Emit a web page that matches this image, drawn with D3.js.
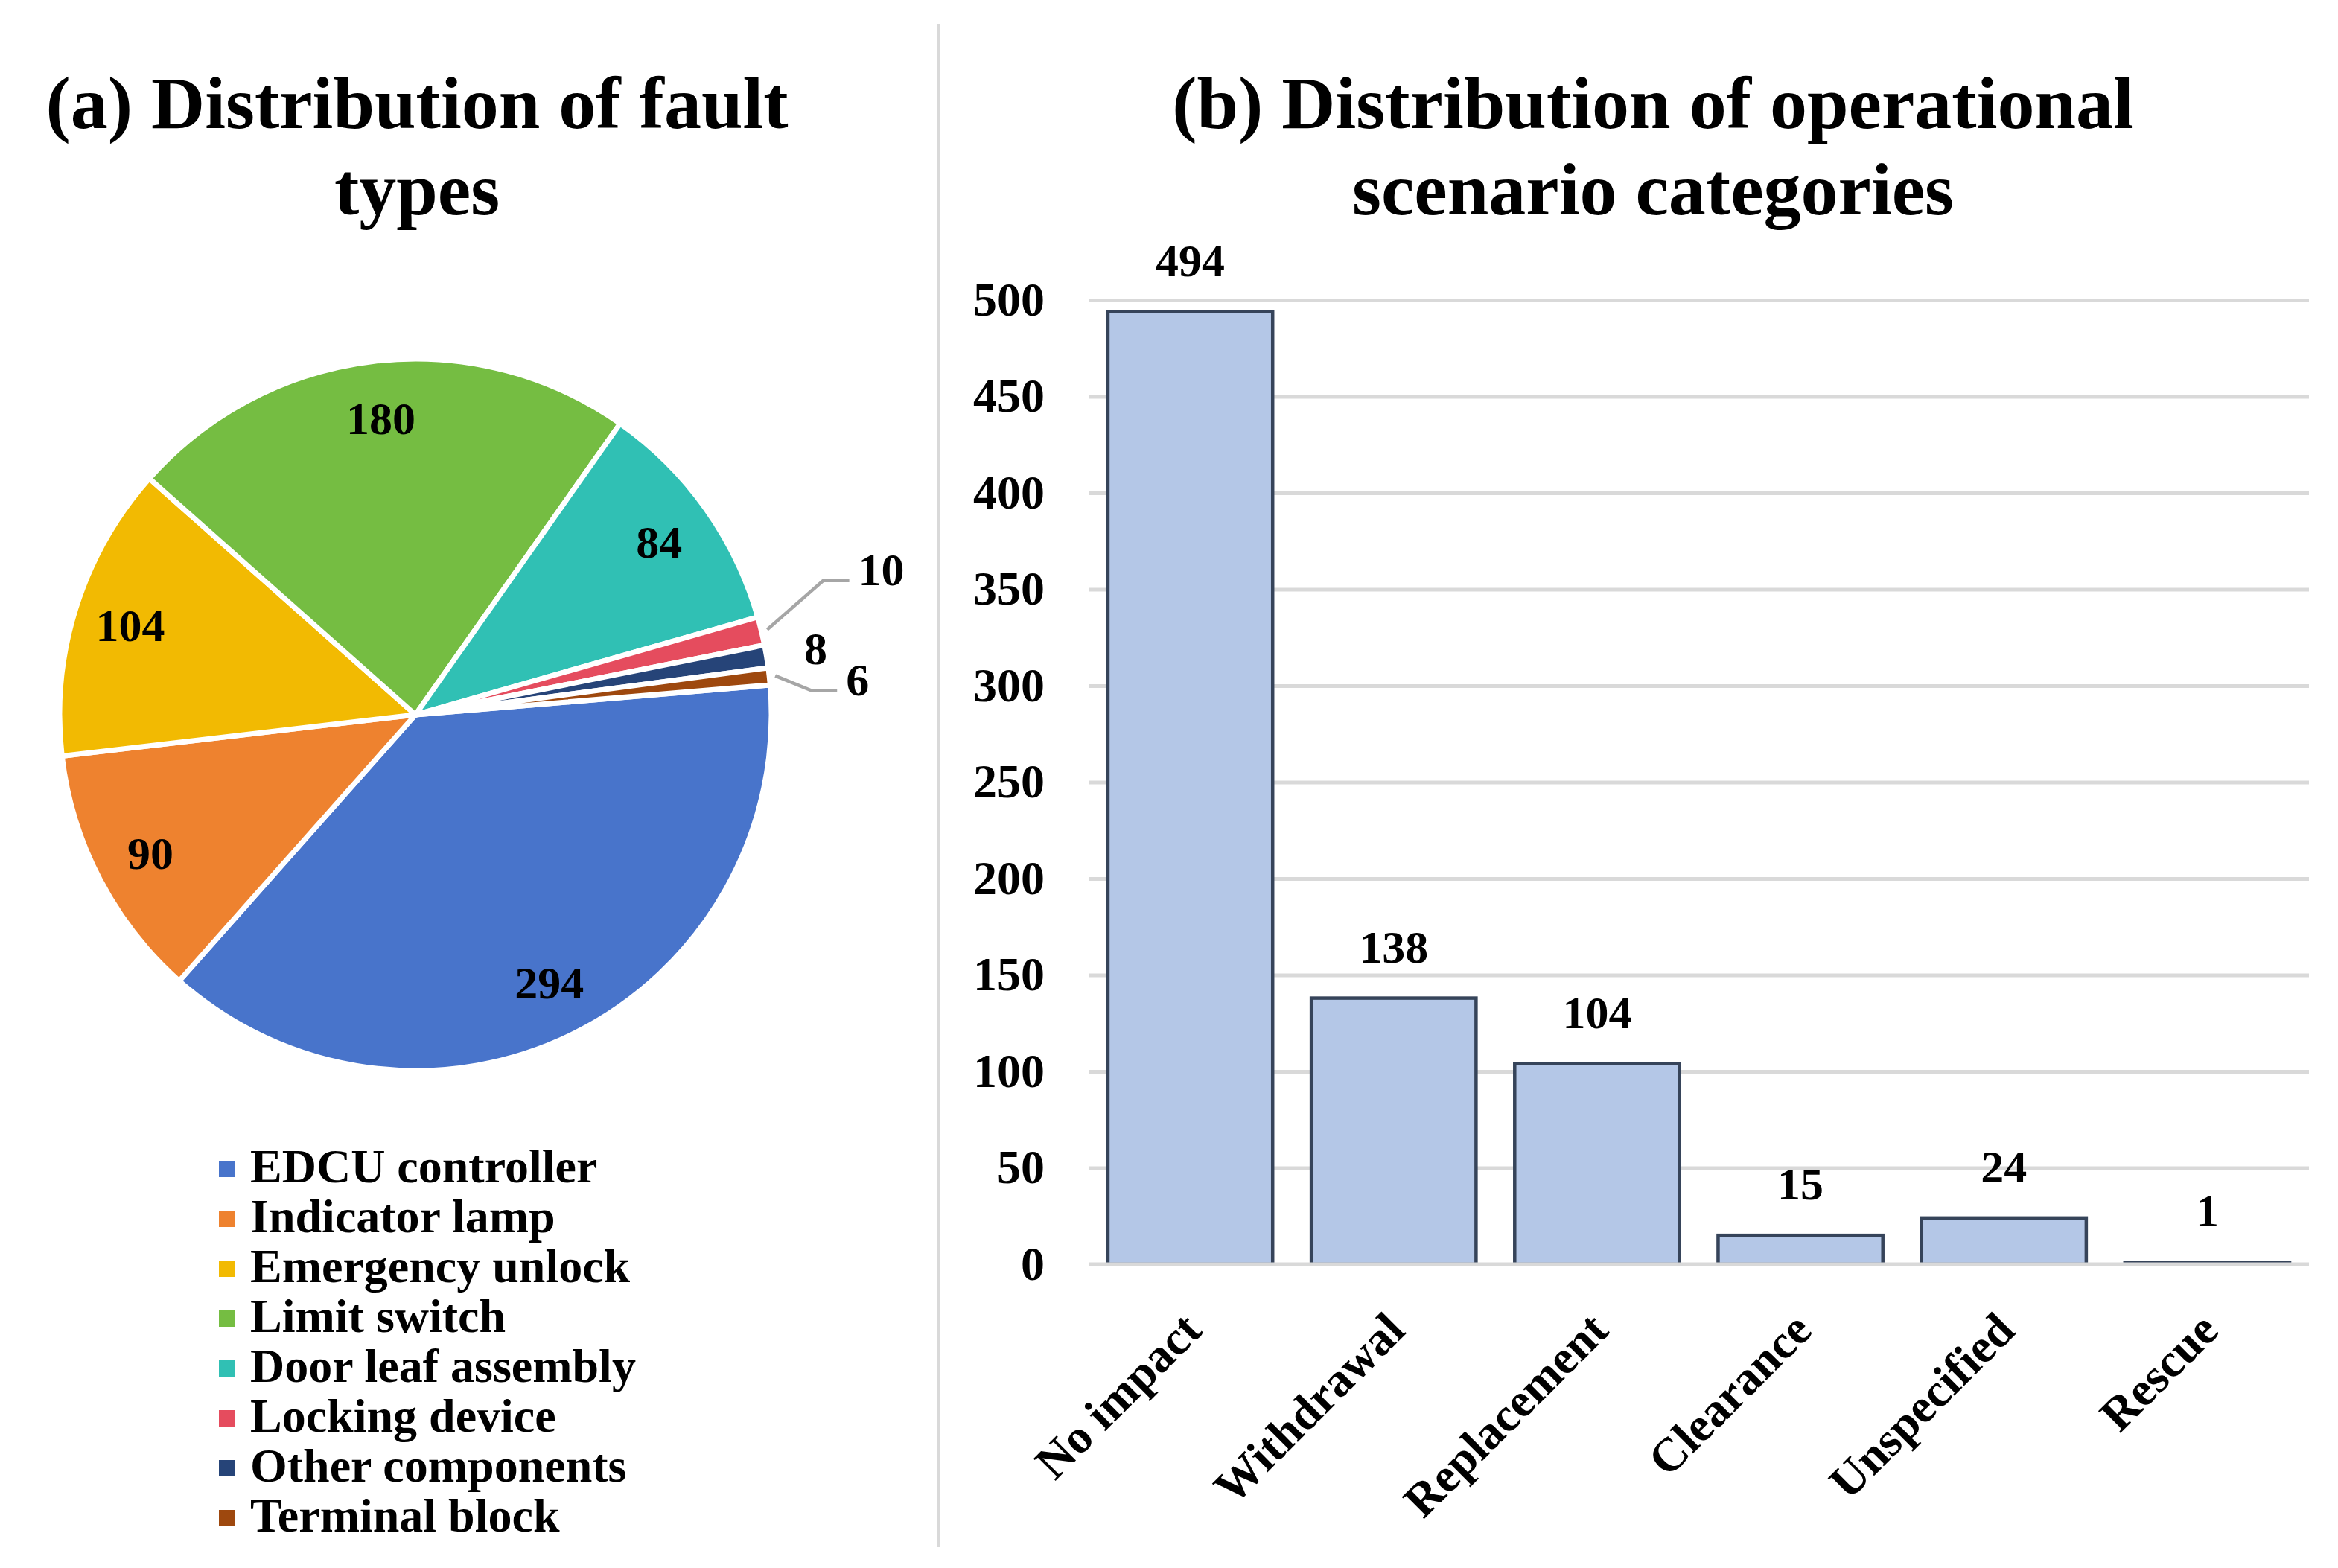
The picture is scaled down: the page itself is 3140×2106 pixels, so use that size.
<!DOCTYPE html>
<html>
<head>
<meta charset="utf-8">
<script src="https://cdn.jsdelivr.net/npm/d3@7"></script>
<style>
  body { margin: 0; background: #fff; }
  text { font-family: "Liberation Serif", "Times New Roman", serif; font-weight: bold; fill: #000; }
</style>
</head>
<body>
<div id="chart"></div>
<script>
const W = 3140, H = 2106;

// (a) fault types
const faultTypes = ["EDCU controller", "Indicator lamp", "Emergency unlock", "Limit switch",
  "Door leaf assembly", "Locking device", "Other components", "Terminal block"];
const faultCounts = [294, 90, 104, 180, 84, 10, 8, 6];
const faultColors = ["#4874CB", "#EE822F", "#F2BA02", "#75BD42", "#30C0B4", "#E54C5E", "#264478", "#9E480E"];

// (b) operational scenarios
const scenarios = ["No impact", "Withdrawal", "Replacement", "Clearance", "Unspecified", "Rescue"];
const scenarioCounts = [494, 138, 104, 15, 24, 1];
const yTickValues = [0, 50, 100, 150, 200, 250, 300, 350, 400, 450, 500];

// small slices labelled outside, nudged like the original (px offsets)
const calloutShift = {
  "Locking device": { dx: 96, dy: -67, leader: true },
  "Other components": { dx: 0, dy: 0, leader: false },
  "Terminal block": { dx: 52, dy: 11, leader: true }
};

const svg = d3.select("#chart").append("svg")
  .attr("width", W).attr("height", H);

svg.append("rect").attr("width", W).attr("height", H).attr("fill", "#fff");

// divider
svg.append("line")
  .attr("x1", 1261).attr("x2", 1261).attr("y1", 32).attr("y2", 2078)
  .attr("stroke", "#D9D9D9").attr("stroke-width", 4);

// ---------- pie ----------
const cx = 558, cy = 960, R = 478;
const start = 85.2 * Math.PI / 180;

const pieData = faultTypes.map((name, i) => ({ name, count: faultCounts[i], color: faultColors[i] }));
const pie = d3.pie().sort(null).value(d => d.count)
  .startAngle(start).endAngle(start + 2 * Math.PI);
const arc = d3.arc().innerRadius(0).outerRadius(R);
const arcs = pie(pieData);

const gPie = svg.append("g").attr("transform", `translate(${cx},${cy})`);

gPie.selectAll("path.slice")
  .data(arcs)
  .join("path")
  .attr("class", "slice")
  .attr("d", arc)
  .attr("fill", d => d.data.color)
  .attr("stroke", "#fff")
  .attr("stroke-width", 7)
  .attr("stroke-linejoin", "round");

const polar = (a, r) => [Math.sin(a) * r, -Math.cos(a) * r];
const mid = d => (d.startAngle + d.endAngle) / 2;

// labels inside big slices
gPie.selectAll("text.inside")
  .data(arcs.filter(d => !calloutShift[d.data.name]))
  .join("text")
  .attr("class", "inside")
  .attr("x", d => polar(mid(d), R * 0.84)[0])
  .attr("y", d => polar(mid(d), R * 0.84)[1])
  .attr("dy", "0.35em")
  .attr("text-anchor", "middle")
  .attr("font-size", 62)
  .text(d => d.data.count);

// labels outside small slices
const outside = arcs.filter(d => calloutShift[d.data.name]);
outside.forEach(d => {
  const s = calloutShift[d.data.name];
  const p = polar(mid(d), R * 1.14);
  const tx = p[0] + s.dx, ty = p[1] + s.dy;
  const t = gPie.append("text")
    .attr("x", tx).attr("y", ty).attr("dy", "0.35em")
    .attr("text-anchor", "middle")
    .attr("font-size", 62)
    .text(d.data.count);
  if (s.leader) {
    const bb = t.node().getBBox();
    const ly = ty + 15;
    const p0 = polar(mid(d), R + 8);
    gPie.append("polyline")
      .attr("points", [p0, [bb.x - 47, ly], [bb.x - 12, ly]].map(q => q.join(",")).join(" "))
      .attr("fill", "none")
      .attr("stroke", "#A6A6A6")
      .attr("stroke-width", 4.5);
  }
});

// title (a)
const titleA = svg.append("text").attr("text-anchor", "middle").attr("font-size", 100);
titleA.append("tspan").attr("x", 560).attr("y", 172).text("(a) Distribution of fault");
titleA.append("tspan").attr("x", 560).attr("y", 288).text("types");

// legend
const legend = svg.append("g").attr("transform", "translate(294,1588)");
const li = legend.selectAll("g").data(pieData).join("g")
  .attr("transform", (d, i) => `translate(0,${i * 67})`);
li.append("rect").attr("x", 0).attr("y", -29).attr("width", 21).attr("height", 22)
  .attr("fill", d => d.color);
li.append("text").attr("x", 42).attr("y", 0).attr("font-size", 64).text(d => d.name);

// ---------- bars ----------
const x0 = 1462, x1 = 3101;
const x = d3.scaleBand().domain(scenarios).range([x0, x1])
  .paddingInner(0.19).paddingOuter(0.095);
const y = d3.scaleLinear().domain([0, 500]).range([1698, 403]);

const gy = svg.append("g").attr("transform", `translate(${x0},0)`)
  .call(d3.axisLeft(y).tickValues(yTickValues).tickSize(-(x1 - x0)).tickPadding(59).tickFormat(d3.format("d")));
gy.select(".domain").remove();
gy.selectAll(".tick line").attr("stroke", "#D9D9D9").attr("stroke-width", 5);
gy.selectAll(".tick text")
  .attr("font-size", 64)
  .attr("font-family", "Liberation Serif, Times New Roman, serif")
  .attr("font-weight", "bold")
  .attr("fill", "#000");

const barData = scenarios.map((name, i) => ({ name, count: scenarioCounts[i] }));

svg.append("g").selectAll("rect")
  .data(barData)
  .join("rect")
  .attr("x", d => x(d.name))
  .attr("y", d => y(d.count))
  .attr("width", x.bandwidth())
  .attr("height", d => y(0) - y(d.count))
  .attr("fill", "#B4C7E7")
  .attr("stroke", "#36445A")
  .attr("stroke-width", 4.5);

// zero line over bar bottoms
svg.append("line")
  .attr("x1", x0).attr("x2", x1).attr("y1", y(0)).attr("y2", y(0))
  .attr("stroke", "#D9D9D9").attr("stroke-width", 5);

svg.append("g").selectAll("text")
  .data(barData)
  .join("text")
  .attr("x", d => x(d.name) + x.bandwidth() / 2)
  .attr("y", d => y(d.count) - 48)
  .attr("text-anchor", "middle")
  .attr("font-size", 62)
  .text(d => d.count);

// rotated category labels
svg.append("g").selectAll("text")
  .data(scenarios)
  .join("text")
  .attr("text-anchor", "end")
  .attr("font-size", 64)
  .attr("transform", d => `translate(${x(d) + x.bandwidth() / 2 + 18},${y(0) + 92}) rotate(-45)`)
  .text(d => d);

// title (b)
const titleB = svg.append("text").attr("text-anchor", "middle").attr("font-size", 100);
titleB.append("tspan").attr("x", 2220).attr("y", 172).text("(b) Distribution of operational");
titleB.append("tspan").attr("x", 2220).attr("y", 288).text("scenario categories");
</script>
</body>
</html>
